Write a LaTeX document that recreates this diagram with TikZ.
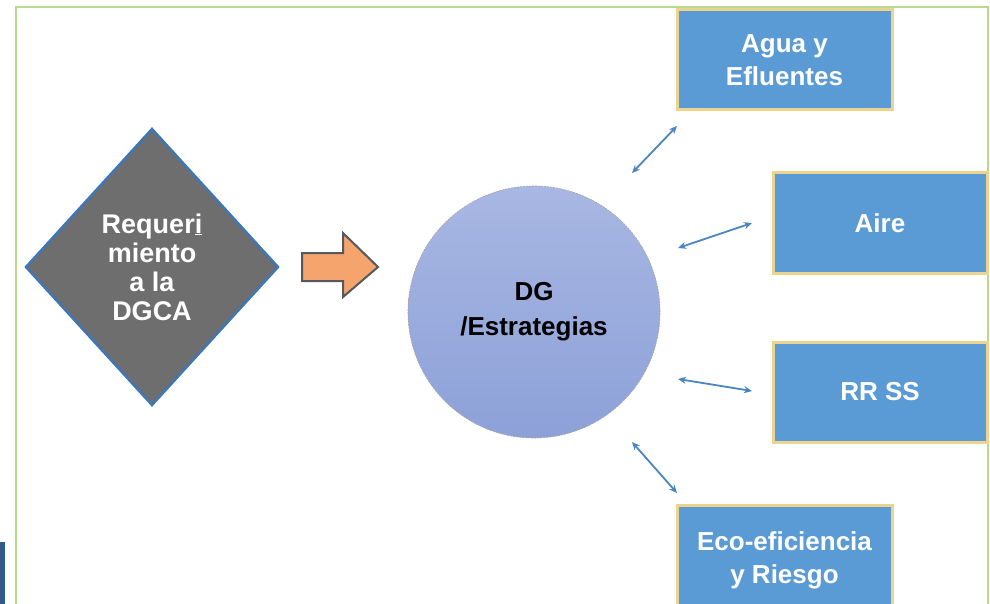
\documentclass[tikz,border=0pt]{standalone}
\usepackage{fontspec}
\setmainfont{Liberation Sans}
\setsansfont{Liberation Sans}
\usetikzlibrary{shapes.geometric,arrows.meta}
\definecolor{framegreen}{HTML}{B9D98F}
\definecolor{boxblue}{HTML}{5B9BD5}
\definecolor{boxgold}{HTML}{EDD48E}
\definecolor{diagray}{HTML}{6E6E6E}
\definecolor{diablue}{HTML}{3F76B5}
\definecolor{arrorange}{HTML}{F4A46C}
\definecolor{arrgray}{HTML}{55595E}
\definecolor{circtop}{HTML}{A8B7E3}
\definecolor{circbot}{HTML}{8DA1D8}
\definecolor{linkblue}{HTML}{4A86C0}
\definecolor{navy}{HTML}{2F5A8C}
\tikzset{
  topicbox/.style={rectangle, fill=boxblue, draw=boxgold, line width=3pt,
    text=white, font=\bfseries\fontsize{26}{33}\selectfont, align=center, inner sep=0pt},
  reqbox/.style={diamond, fill=diagray, draw=diablue, line width=2.5pt,
    minimum width=253pt, minimum height=277pt, inner sep=0pt,
    text=white, font=\bfseries\fontsize{27}{29}\selectfont, align=center},
  dgcircle/.style={circle, top color=circtop, bottom color=circbot,
    draw=gray!70, dash pattern=on 2pt off 1pt, line width=0.6pt,
    minimum size=252pt, inner sep=0pt,
    font=\bfseries\fontsize{26}{35}\selectfont, align=center},
  link/.style={linkblue, line width=1.8pt, {Stealth[length=8pt,width=7pt]}-{Stealth[length=8pt,width=7pt]}},
  bigarrow/.style={fill=arrorange, draw=arrgray, line width=2pt, line join=miter}
}
\begin{document}
\begin{tikzpicture}[x=1pt,y=-1pt]
\useasboundingbox (0,0) rectangle (990,604);
\clip (0,0) rectangle (990,604);
\fill[white] (0,0) rectangle (990,604);
% frame
\draw[framegreen, line width=1.5pt] (16,620) -- (16,7) -- (988,7) -- (988,620);
\fill[navy] (0,542) rectangle (5,604);
% diamond
\node[reqbox] (req) at (152,267) {Requer\underline{i}\\miento\\a la\\DGCA};
% orange arrow
\draw[bigarrow] (302,253) -- (343,253) -- (343,233) -- (378,267) -- (343,297) -- (343,281) -- (302,281) -- cycle;
% circle
\node[dgcircle] (dg) at (534,312) {DG\\/Estrategias};
% boxes
\node[topicbox, minimum width=215pt, minimum height=100pt] (agua) at (784.5,60) {Agua y\\Efluentes};
\node[topicbox, minimum width=214pt, minimum height=100pt] (aire) at (880,223) {Aire};
\node[topicbox, minimum width=214pt, minimum height=100pt] (rrss) at (880,392) {RR SS};
\node[topicbox, minimum width=215pt, minimum height=110pt] (eco) at (784.5,560) {Eco-eficiencia\\y Riesgo};
% links
\coordinate (a1) at (632,173); \coordinate (a2) at (677,126);
\coordinate (b1) at (678,248); \coordinate (b2) at (752,223);
\coordinate (c1) at (678,379); \coordinate (c2) at (752,391);
\coordinate (d1) at (632,442); \coordinate (d2) at (677,493);
\draw[link] (a1) -- (a2);
\draw[link] (b1) -- (b2);
\draw[link] (c1) -- (c2);
\draw[link] (d1) -- (d2);
\end{tikzpicture}
\end{document}
